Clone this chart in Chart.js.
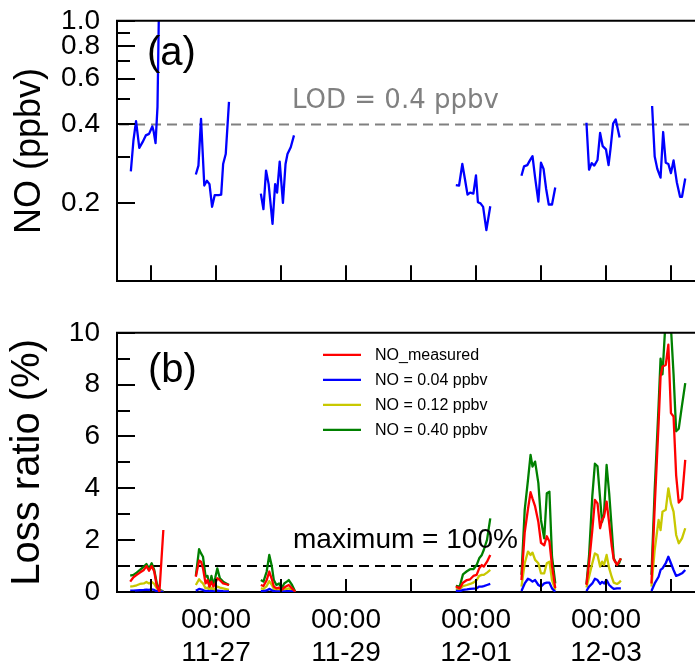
<!DOCTYPE html>
<html><head><meta charset="utf-8">
<script src="https://cdn.jsdelivr.net/npm/chart.js@4.4.0/dist/chart.umd.min.js"></script>
<style>
html,body{margin:0;padding:0;background:#fff;overflow:hidden;}
body{position:relative;width:695px;height:667px;}
.holder{position:absolute;left:0;width:695px;}
</style></head><body>
<div id="pa" class="holder" style="top:0px;"><canvas id="ca" width="695" height="300"></canvas></div>
<div id="pb" class="holder" style="top:300px;"><canvas id="cb" width="695" height="367"></canvas></div>
<script>
// ---------- DATA ----------
// time in fractional days counted from Nov 1 (12-01 00:00 = 31, 12-03 00:00 = 33)
const xRange = [25.477, 34.37];
const dayTicks = [26, 27, 28, 29, 30, 31, 32, 33, 34];
const labelDays = [27, 29, 31, 33];
const labelTimes = ['00:00', '00:00', '00:00', '00:00'];
const labelDates = ['11-27', '11-29', '12-01', '12-03'];

const noTicks = [0.1, 0.2, 0.3, 0.4, 0.5, 0.6, 0.7, 0.8, 0.9, 1.0];
const noTickLabels = [0.2, 0.4, 0.6, 0.8, 1.0];
const lossTicks = [0, 1, 2, 3, 4, 5, 6, 7, 8, 9, 10];
const lossTickLabels = [0, 2, 4, 6, 8, 10];

const lodValue = 0.4;      // ppbv
const maximumLine = 1;     // %

// panel (a): measured NO (ppbv); null = gap between measurement periods
const noTimes = [
  25.69, 25.73, 25.77, 25.82, 25.87, 25.92, 25.97, 26.02, 26.04, 26.07, 26.10, 26.13,
  26.45,
  26.69, 26.73, 26.77, 26.82, 26.86, 26.90, 26.94, 26.98, 27.04, 27.08, 27.11, 27.15, 27.20,
  27.45,
  27.69, 27.73, 27.77, 27.81, 27.84, 27.87, 27.91, 27.94, 27.98, 28.03, 28.07, 28.10, 28.15, 28.20,
  29.45,
  30.69, 30.74, 30.79, 30.83, 30.87, 30.91, 30.96, 31.00, 31.03, 31.07, 31.11, 31.16, 31.22,
  31.45,
  31.70, 31.74, 31.79, 31.83, 31.87, 31.91, 31.96, 32.00, 32.04, 32.08, 32.12, 32.17, 32.22,
  32.45,
  32.70, 32.74, 32.78, 32.82, 32.87, 32.91, 32.95, 33.00, 33.04, 33.07, 33.11, 33.15, 33.21,
  33.45,
  33.71, 33.75, 33.79, 33.84, 33.88, 33.92, 33.96, 34.00, 34.04, 34.09, 34.14, 34.17, 34.22
];
const noValues = [
  0.264, 0.347, 0.412, 0.325, 0.342, 0.363, 0.368, 0.393, 0.377, 0.339, 0.467, 1.5,
  null,
  0.257, 0.278, 0.420, 0.233, 0.243, 0.236, 0.193, 0.214, 0.214, 0.215, 0.282, 0.308, 0.488,
  null,
  0.217, 0.189, 0.266, 0.236, 0.198, 0.166, 0.236, 0.219, 0.288, 0.200, 0.282, 0.308, 0.327, 0.363,
  null,
  0.234, 0.233, 0.282, 0.247, 0.215, 0.219, 0.217, 0.255, 0.201, 0.199, 0.193, 0.157, 0.194,
  null,
  0.254, 0.276, 0.279, 0.291, 0.302, 0.250, 0.202, 0.285, 0.270, 0.226, 0.197, 0.197, 0.229,
  null,
  0.406, 0.268, 0.284, 0.278, 0.292, 0.371, 0.330, 0.321, 0.279, 0.322, 0.403, 0.418, 0.356,
  null,
  0.471, 0.301, 0.270, 0.250, 0.374, 0.285, 0.282, 0.260, 0.291, 0.240, 0.211, 0.211, 0.248
];

// panel (b): loss ratio (%)
const lossTimes = [
  25.68, 25.73, 25.78, 25.83, 25.89, 25.93, 25.97, 26.01, 26.05, 26.09, 26.13, 26.19,
  26.45,
  26.69, 26.74, 26.77, 26.80, 26.84, 26.87, 26.90, 26.93, 26.96, 26.99, 27.02, 27.06, 27.11, 27.20,
  27.45,
  27.69, 27.73, 27.78, 27.82, 27.86, 27.89, 27.93, 27.97, 28.01, 28.05, 28.09, 28.12, 28.17, 28.22,
  29.45,
  30.69, 30.75, 30.80, 30.86, 30.91, 30.96, 31.01, 31.05, 31.09, 31.12, 31.17, 31.22,
  31.45,
  31.70, 31.75, 31.80, 31.84, 31.87, 31.91, 31.96, 32.00, 32.05, 32.09, 32.13, 32.17, 32.22,
  32.45,
  32.70, 32.74, 32.79, 32.83, 32.87, 32.91, 32.94, 32.97, 33.01, 33.05, 33.09, 33.12, 33.17, 33.20, 33.23,
  33.45,
  33.70, 33.75, 33.81, 33.84, 33.87, 33.92, 33.96, 34.00, 34.04, 34.08, 34.12, 34.17, 34.22
];
const lossMeasured = [
  0.40, 0.57, 0.66, 0.75, 0.85, 1.00, 0.82, 1.00, 0.79, 0.21, 0.01, 2.39,
  null,
  0.59, 1.21, 1.17, 0.91, 0.33, 0.46, 0.21, 0.40, 0.21, 0.33, 0.53, 0.46, 0.33, 0.27,
  null,
  0.27, 0.23, 0.46, 0.79, 0.49, 0.21, 0.14, 0.17, 0.08, 0.17, 0.23, 0.27, 0.14, 0.01,
  null,
  0.21, 0.14, 0.36, 0.46, 0.49, 0.62, 0.66, 0.91, 1.04, 0.98, 1.17, 1.43,
  null,
  0.46, 2.30, 3.20, 3.85, 3.60, 3.30, 2.70, 1.90, 1.80, 2.15, 1.95, 1.00, 0.15,
  null,
  0.27, 1.11, 2.39, 3.55, 3.42, 2.46, 2.78, 2.91, 3.49, 2.65, 1.75, 1.26, 1.04, 1.17, 1.30,
  null,
  0.33, 3.29, 6.51, 8.31, 8.70, 8.76, 9.54, 6.90, 6.77, 4.50, 3.45, 3.60, 5.10
];
const loss004 = [
  0.05, 0.05, 0.06, 0.07, 0.08, 0.09, 0.08, 0.10, 0.08, 0.03, 0.01, 0.01,
  null,
  0.05, 0.12, 0.10, 0.08, 0.03, 0.04, 0.02, 0.04, 0.02, 0.03, 0.05, 0.04, 0.03, 0.02,
  null,
  0.03, 0.03, 0.06, 0.12, 0.07, 0.03, 0.02, 0.02, 0.01, 0.02, 0.03, 0.03, 0.02, 0.00,
  null,
  0.05, 0.03, 0.08, 0.10, 0.12, 0.13, 0.14, 0.21, 0.21, 0.23, 0.27, 0.31,
  null,
  0.04, 0.33, 0.51, 0.46, 0.40, 0.46, 0.27, 0.21, 0.33, 0.36, 0.36, 0.14, 0.01,
  null,
  0.04, 0.21, 0.33, 0.51, 0.46, 0.31, 0.39, 0.33, 0.46, 0.27, 0.18, 0.12, 0.14, 0.14, 0.14,
  null,
  0.04, 0.33, 0.59, 0.85, 0.91, 1.11, 1.36, 1.11, 0.85, 0.62, 0.66, 0.72, 0.85
];
const loss012 = [
  0.21, 0.23, 0.26, 0.31, 0.33, 0.39, 0.33, 0.39, 0.31, 0.14, 0.04, 0.02,
  null,
  0.27, 0.49, 0.40, 0.33, 0.14, 0.17, 0.08, 0.17, 0.08, 0.14, 0.21, 0.17, 0.14, 0.08,
  null,
  0.14, 0.12, 0.23, 0.42, 0.27, 0.12, 0.08, 0.10, 0.04, 0.10, 0.12, 0.14, 0.08, 0.01,
  null,
  0.14, 0.10, 0.23, 0.27, 0.31, 0.36, 0.46, 0.62, 0.66, 0.66, 0.75, 0.85,
  null,
  0.21, 1.11, 1.56, 1.43, 1.52, 1.24, 1.11, 0.72, 0.72, 1.11, 1.17, 0.46, 0.08,
  null,
  0.17, 0.59, 1.11, 1.49, 1.43, 0.98, 1.17, 1.04, 1.43, 0.91, 0.57, 0.36, 0.31, 0.36, 0.44,
  null,
  0.21, 1.62, 2.78, 2.39, 3.10, 3.17, 4.00, 3.42, 3.10, 2.20, 1.88, 2.07, 2.46
];
const loss040 = [
  0.63, 0.66, 0.75, 0.85, 0.98, 1.08, 0.91, 1.11, 0.85, 0.33, 0.08, 0.03,
  null,
  0.62, 1.65, 1.49, 1.36, 0.59, 0.62, 0.21, 0.62, 0.27, 0.57, 0.91, 0.53, 0.40, 0.27,
  null,
  0.46, 0.40, 0.79, 1.43, 0.98, 0.46, 0.27, 0.33, 0.14, 0.33, 0.40, 0.46, 0.27, 0.01,
  null,
  0.24, 0.21, 0.68, 0.80, 0.88, 0.88, 1.04, 1.30, 1.43, 1.62, 2.01, 2.84,
  null,
  0.66, 3.17, 4.32, 5.29, 4.84, 5.03, 4.20, 2.78, 2.07, 3.81, 3.87, 1.36, 0.33,
  null,
  0.30, 1.40, 3.70, 4.95, 4.85, 3.60, 2.70, 3.00, 4.90, 3.80, 2.40, 1.30, 1.05, 1.10, 1.30,
  null,
  0.66, 3.94, 7.20, 9.00, 8.40, 10.60, 11.00, 10.20, 8.40, 6.20, 6.30, 7.20, 8.06
];
const seriesNames = ['NO_measured', 'NO = 0.04 ppbv', 'NO = 0.12 ppbv', 'NO = 0.40 ppbv'];
const seriesColors = ['#ff0000', '#0000ff', '#c8c800', '#008000'];

// ---------- HELPERS ----------
const FONT = "'Liberation Sans', Arial, Helvetica, sans-serif";
Chart.defaults.font.family = FONT;
Chart.defaults.color = '#000';

const pts = (xs, ys) => xs.map((t, i) => ({ x: t, y: ys[i] }));

function lineDs(label, xs, ys, color) {
  return {
    label, data: pts(xs, ys), borderColor: color, backgroundColor: color,
    borderWidth: 2.3, pointRadius: 0, tension: 0, spanGaps: false,
    borderJoinStyle: 'round', fill: false
  };
}

function frameTicks(yTicks, yLabeled, xLen) {
  return {
    id: 'frameTicks',
    afterDraw(chart) {
      const { ctx, chartArea: a, scales: { x, y } } = chart;
      ctx.save();
      ctx.strokeStyle = '#000';
      ctx.lineWidth = 2;
      ctx.beginPath();
      ctx.moveTo(a.left - 1, a.top);
      ctx.lineTo(a.right + 2, a.top);
      yTicks.forEach(v => {
        const py = Math.round(y.getPixelForValue(v));
        const len = yLabeled.includes(v) ? 18 : 13;
        ctx.moveTo(a.left, py);
        ctx.lineTo(a.left + len, py);
      });
      dayTicks.forEach(v => {
        const px = Math.round(x.getPixelForValue(v));
        ctx.moveTo(px, a.bottom);
        ctx.lineTo(px, a.bottom - xLen);
      });
      ctx.stroke();
      ctx.restore();
    }
  };
}

function hDash(value, color) {
  return {
    id: 'hdash',
    beforeDatasetsDraw(chart) {
      const { ctx, chartArea: a, scales: { y } } = chart;
      const py = y.getPixelForValue(value);
      ctx.save();
      ctx.strokeStyle = color;
      ctx.lineWidth = 2;
      ctx.setLineDash([10, 6]);
      ctx.beginPath();
      ctx.moveTo(a.left + 2, py);
      ctx.lineTo(a.right, py);
      ctx.stroke();
      ctx.restore();
    }
  };
}

const xScaleBase = (showLabels, height) => ({
  type: 'linear', min: xRange[0], max: xRange[1],
  grid: { display: false, drawTicks: false },
  border: { display: true, color: '#000', width: 2 },
  afterBuildTicks: s => { s.ticks = dayTicks.map(v => ({ value: v })); },
  afterFit: s => { s.height = height; },
  ticks: {
    display: showLabels, autoSkip: false, maxRotation: 0, minRotation: 0,
    padding: 11, color: '#000',
    font: { size: 28, family: FONT, lineHeight: 1.2 },
    callback: v => {
      const i = labelDays.indexOf(v);
      return i >= 0 ? [labelTimes[i], labelDates[i]] : '';
    }
  }
});

// build a chart, then shift/resize its canvas so the plot area lands on the wanted page rows
function pinned(holderId, canvasId, makeConfig, wantTop, wantBottom) {
  const holder = document.getElementById(holderId);
  const canvas = document.getElementById(canvasId);
  const t0 = parseFloat(holder.style.top);
  const h0 = canvas.height;
  let chart = new Chart(canvas, makeConfig());
  const a = chart.chartArea;
  const newTop = t0 + (wantTop - (t0 + a.top));
  const newH = h0 + ((wantBottom - wantTop) - (a.bottom - a.top));
  chart.destroy();
  holder.style.top = newTop + 'px';
  canvas.width = 695;
  canvas.height = Math.round(newH);
  canvas.style.width = '695px';
  canvas.style.height = Math.round(newH) + 'px';
  return new Chart(canvas, makeConfig());
}

// ---------- PANEL (a) ----------
pinned('pa', 'ca', () => ({
  type: 'line',
  data: { datasets: [lineDs('NO', noTimes, noValues, '#0000ff')] },
  options: {
    responsive: false, maintainAspectRatio: false, animation: false, events: [],
    layout: { padding: { top: 21, left: 0, right: 0, bottom: 0 } },
    plugins: { legend: { display: false }, tooltip: { enabled: false } },
    scales: {
      x: xScaleBase(false, 19),
      y: {
        type: 'logarithmic', min: 0.1, max: 1.0,
        grid: { display: false, drawTicks: false },
        border: { display: true, color: '#000', width: 2 },
        afterBuildTicks: s => { s.ticks = noTicks.map(v => ({ value: v })); },
        afterFit: s => { s.width = 117; },
        ticks: {
          autoSkip: false, padding: 17, color: '#000',
          font: { size: 28, family: FONT },
          callback: v => noTickLabels.includes(v) ? v.toFixed(1) : ''
        },
        title: {
          display: true, text: 'NO (ppbv)', color: '#000',
          font: { size: 36, family: FONT }, padding: { top: 8, bottom: 0 }
        }
      }
    }
  },
  plugins: [
    hDash(lodValue, '#808080'),
    frameTicks(noTicks, noTickLabels, 16),
    {
      id: 'textA',
      afterDatasetsDraw(chart) {
        const { ctx, chartArea: a, scales: { y } } = chart;
        ctx.save();
        ctx.textBaseline = 'alphabetic';
        ctx.textAlign = 'left';
        ctx.fillStyle = '#000';
        ctx.font = '40px ' + FONT;
        ctx.fillText('(a)', a.left + 30, a.top + 44);
        ctx.fillStyle = '#808080';
        ctx.font = "26px 'DejaVu Sans', sans-serif";
        ctx.fillText('LOD = ' + lodValue + ' ppbv', a.left + 175, y.getPixelForValue(lodValue) - 16);
        ctx.restore();
      }
    }
  ]
}), 21, 281);

// ---------- PANEL (b) ----------
const lossSeries = [lossMeasured, loss004, loss012, loss040];
pinned('pb', 'cb', () => ({
  type: 'line',
  data: {
    datasets: lossSeries.map((s, i) => lineDs(seriesNames[i], lossTimes, s, seriesColors[i]))
  },
  options: {
    responsive: false, maintainAspectRatio: false, animation: false, events: [],
    layout: { padding: { top: 33, left: 0, right: 0, bottom: 0 } },
    plugins: { legend: { display: false }, tooltip: { enabled: false } },
    scales: {
      x: xScaleBase(true, 75),
      y: {
        type: 'linear', min: 0, max: 10,
        grid: { display: false, drawTicks: false },
        border: { display: true, color: '#000', width: 2 },
        afterBuildTicks: s => { s.ticks = lossTicks.map(v => ({ value: v })); },
        afterFit: s => { s.width = 117; },
        ticks: {
          autoSkip: false, padding: 17, color: '#000',
          font: { size: 28, family: FONT },
          callback: v => lossTickLabels.includes(v) ? String(v) : ''
        },
        title: {
          display: true, text: 'Loss ratio (%)', color: '#000',
          font: { size: 40, family: FONT }, padding: { top: 4, bottom: 0 }
        }
      }
    }
  },
  plugins: [
    hDash(maximumLine, '#000'),
    frameTicks(lossTicks, lossTickLabels, 13),
    {
      id: 'textB',
      afterDatasetsDraw(chart) {
        const { ctx, chartArea: a, scales: { y } } = chart;
        ctx.save();
        ctx.textAlign = 'left';
        ctx.textBaseline = 'alphabetic';
        ctx.fillStyle = '#000';
        ctx.font = '40px ' + FONT;
        ctx.fillText('(b)', a.left + 31, a.top + 49);
        ctx.font = '28px ' + FONT;
        ctx.fillText('maximum = 100%', a.left + 176, y.getPixelForValue(maximumLine) - 18);
        // legend
        ctx.font = '16px ' + FONT;
        ctx.textBaseline = 'middle';
        chart.data.datasets.forEach((d, i) => {
          const cy = a.top + 22 + i * 25;
          ctx.strokeStyle = d.borderColor;
          ctx.lineWidth = 2.3;
          ctx.beginPath();
          ctx.moveTo(a.left + 206, cy);
          ctx.lineTo(a.left + 244, cy);
          ctx.stroke();
          ctx.fillStyle = '#000';
          ctx.fillText(d.label, a.left + 258, cy + 1);
        });
        ctx.restore();
      }
    }
  ]
}), 333, 592);
</script>
</body></html>
